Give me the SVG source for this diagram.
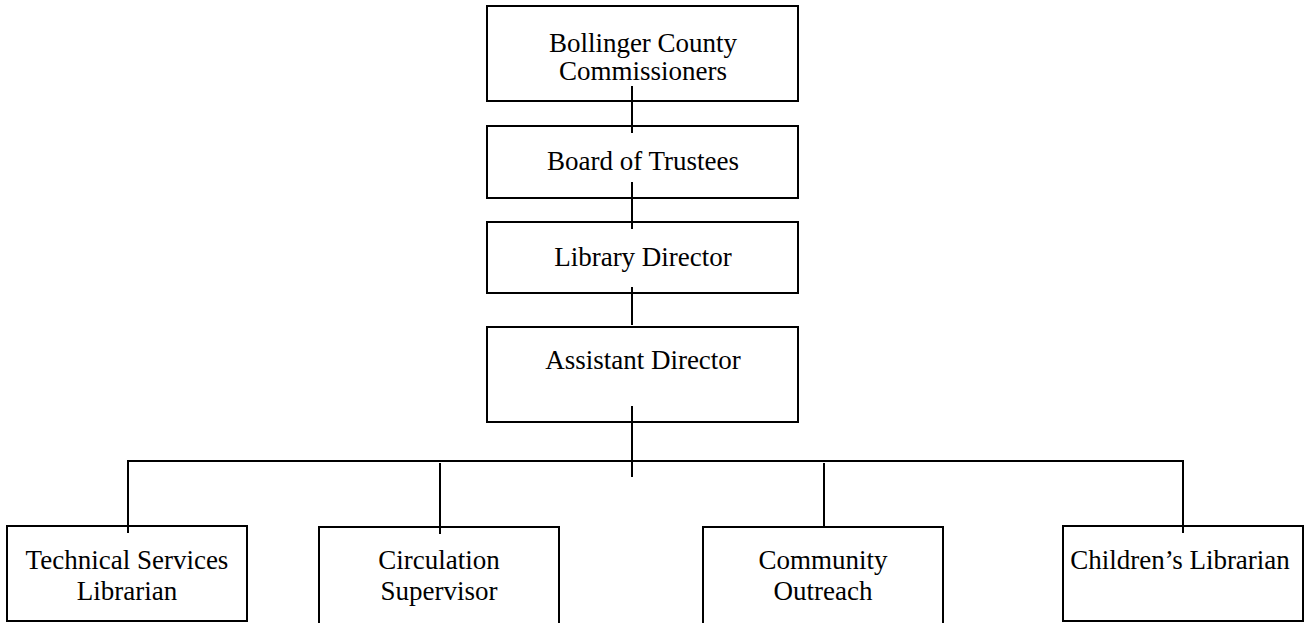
<svg xmlns="http://www.w3.org/2000/svg" width="1306" height="623" viewBox="0 0 1306 623">
<style>
.box{fill:#fff;stroke:#000;stroke-width:2}
.ln{stroke:#000;stroke-width:2;fill:none}
text{font-family:"Liberation Serif","Times New Roman",serif;font-size:27px;fill:#000;text-anchor:middle}
</style>
<rect width="1306" height="623" fill="#fff"/>
<g id="n1"><rect class="box" x="487" y="6" width="311" height="95"/><text x="643" y="52">Bollinger County</text><text x="643" y="80">Commissioners</text></g>
<g id="n2"><rect class="box" x="487" y="126" width="311" height="72"/><text x="643" y="170">Board of Trustees</text></g>
<g id="n3"><rect class="box" x="487" y="222" width="311" height="71"/><text x="643" y="266">Library Director</text></g>
<g id="n4"><rect class="box" x="487" y="327" width="311" height="95"/><text x="643" y="369">Assistant Director</text></g>
<g id="n5"><rect class="box" x="7" y="526" width="240" height="95"/><text x="127" y="569">Technical Services</text><text x="127" y="600">Librarian</text></g>
<g id="n6"><rect class="box" x="319" y="527" width="240" height="98"/><text x="439" y="569">Circulation</text><text x="439" y="600">Supervisor</text></g>
<g id="n7"><rect class="box" x="703" y="527" width="240" height="98"/><text x="823" y="569">Community</text><text x="823" y="600">Outreach</text></g>
<g id="n8"><rect class="box" x="1063" y="526" width="240" height="95"/><text x="1180" y="569">Children’s Librarian</text></g>
<g id="connectors">
<line class="ln" x1="632" y1="86" x2="632" y2="133"/>
<line class="ln" x1="632" y1="182" x2="632" y2="229"/>
<line class="ln" x1="632" y1="287" x2="632" y2="325"/>
<line class="ln" x1="632" y1="406" x2="632" y2="477"/>
<polyline class="ln" points="128,533 128,461 1183,461 1183,533"/>
<line class="ln" x1="440" y1="463" x2="440" y2="534"/>
<line class="ln" x1="824" y1="463" x2="824" y2="527"/>
</g>
</svg>
